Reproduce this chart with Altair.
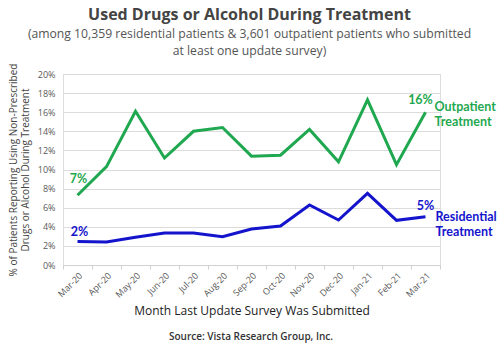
import altair as alt
import pandas as pd

months = ["Mar-20", "Apr-20", "May-20", "Jun-20", "Jul-20", "Aug-20", "Sep-20",
          "Oct-20", "Nov-20", "Dec-20", "Jan-21", "Feb-21", "Mar-21"]
outpatient = [7.3, 10.3, 16.1, 11.2, 14.0, 14.4, 11.4, 11.5, 14.2, 10.8, 17.3, 10.5, 16.0]
residential = [2.45, 2.4, 2.9, 3.35, 3.35, 2.97, 3.77, 4.08, 6.28, 4.71, 7.5, 4.68, 5.06]
series_names = ["Outpatient", "Residential"]
series_colors = ["#1fa84f", "#1414cc"]

rows = []
for m, o, r in zip(months, outpatient, residential):
    rows.append({"month": m, "series": "Outpatient", "value": o / 100})
    rows.append({"month": m, "series": "Residential", "value": r / 100})
df = pd.DataFrame(rows)

FONT = "Open Sans"
LFONT = "Lato"

x_enc = alt.X("month:N", sort=months,
              scale=alt.Scale(type="band", paddingInner=0, paddingOuter=0),
              axis=alt.Axis(title="Month Last Update Survey Was Submitted",
                            titleFont=FONT, titleFontSize=12, titleFontWeight="normal",
                            titleColor="#222", titlePadding=6,
                            labelAngle=-45, labelFont=FONT, labelFontSize=9,
                            labelColor="#595959", tickBand="extent", tickSize=4,
                            tickColor="#d0d0d0", domainColor="#d0d0d0", grid=False,
                            labelPadding=2))
y_enc = alt.Y("value:Q",
              scale=alt.Scale(domain=[0, 0.2]),
              axis=alt.Axis(title=["% of Patients Reporting Using Non-Prescribed",
                                   "Drugs or Alcohol During Treatment"],
                            titleFont=FONT, titleFontSize=10, titleFontWeight="normal",
                            titleColor="#444", format=".0%",
                            values=[0, 0.02, 0.04, 0.06, 0.08, 0.1, 0.12, 0.14, 0.16, 0.18, 0.2],
                            labelOverlap=False,
                            labelFont=FONT, labelFontSize=9, labelColor="#595959",
                            domain=False, ticks=False, gridColor="#dcdcdc",
                            labelPadding=8, titlePadding=7))
color_enc = alt.Color("series:N", scale=alt.Scale(domain=series_names, range=series_colors),
                      legend=None)

lines = alt.Chart(df).mark_line(strokeWidth=3).encode(x=x_enc, y=y_enc, color=color_enc)

val_rows = [
    {"month": months[0], "series": "Outpatient", "value": outpatient[0] / 100,
     "label": f"{round(outpatient[0])}%"},
    {"month": months[-1], "series": "Outpatient", "value": outpatient[-1] / 100,
     "label": f"{round(outpatient[-1])}%"},
    {"month": months[0], "series": "Residential", "value": residential[0] / 100,
     "label": f"{int(residential[0])}%"},
    {"month": months[-1], "series": "Residential", "value": residential[-1] / 100,
     "label": f"{round(residential[-1])}%"},
]
vdf = pd.DataFrame(val_rows)

def val_text(i, dx, dy):
    return alt.Chart(vdf.iloc[[i]]).mark_text(
        font=LFONT, fontSize=12.5, fontWeight="bold", dx=dx, dy=dy
    ).encode(x=x_enc, y=y_enc, color=color_enc, text="label:N")

v1 = val_text(0, 1, -16)
v2 = val_text(1, -5, -12)
v3 = val_text(2, 2, -10)
v4 = val_text(3, 0, -11)

name_rows = [
    {"month": months[-1], "series": "Outpatient", "value": outpatient[-1] / 100,
     "label": ["Outpatient", "Treatment"]},
    {"month": months[-1], "series": "Residential", "value": residential[-1] / 100,
     "label": ["Residential", "Treatment"]},
]
ndf = pd.DataFrame(name_rows)

n1 = alt.Chart(ndf.iloc[[0]]).mark_text(
    font=LFONT, fontSize=12.5, fontWeight="bold", align="left", baseline="middle",
    dx=9, dy=-5, lineHeight=15
).encode(x=x_enc, y=y_enc, color=color_enc, text="label")
n2 = alt.Chart(ndf.iloc[[1]]).mark_text(
    font=LFONT, fontSize=12.5, fontWeight="bold", align="left", baseline="middle",
    dx=10, dy=0, lineHeight=15
).encode(x=x_enc, y=y_enc, color=color_enc, text="label")

source = alt.Chart(pd.DataFrame({"t": ["Source: Vista Research Group, Inc."]})).mark_text(
    font=FONT, fontSize=10, color="#333", align="center", fontWeight=600
).encode(x=alt.value(188), y=alt.value(263), text="t:N")

chart = alt.layer(lines, v1, v2, v3, v4, n1, n2, source).properties(
    width=377, height=191,
    autosize=alt.AutoSizeParams(type="none"),
    padding={"left": 63, "top": 74, "right": 60, "bottom": 79},
    title=alt.TitleParams(
        text="Used Drugs or Alcohol During Treatment",
        subtitle=["(among 10,359 residential patients & 3,601 outpatient patients who submitted",
                  "at least one update survey)"],
        font=FONT, fontSize=16, fontWeight="bold", color="#444",
        subtitleFont=FONT, subtitleFontSize=12.2, subtitleColor="#555",
        subtitlePadding=5, subtitleLineHeight=17, anchor="middle", offset=6, dx=-2,
    ),
).configure_view(stroke=None).configure(background="white")

chart.save("out.html", embed_options={"renderer": "svg", "actions": False})
